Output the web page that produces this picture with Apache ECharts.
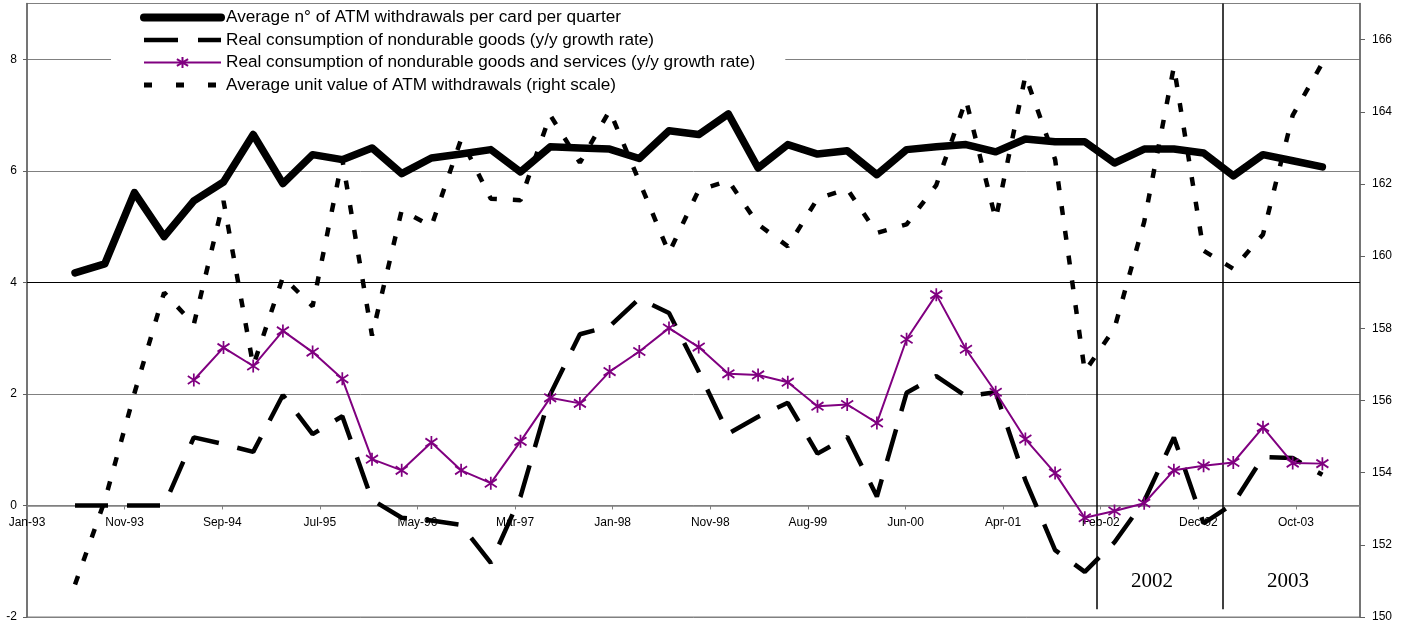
<!DOCTYPE html>
<html>
<head>
<meta charset="utf-8">
<script src="https://cdn.jsdelivr.net/npm/echarts@6/dist/echarts.min.js"></script>
<style>html,body{margin:0;padding:0;background:#fff}#chart{width:1409px;height:625px}</style>
</head>
<body>
<div id="chart"></div>
<script>
// ---- data ----
const quarters = ['1993Q2','1993Q3','1993Q4','1994Q1','1994Q2','1994Q3','1994Q4','1995Q1','1995Q2','1995Q3','1995Q4',
  '1996Q1','1996Q2','1996Q3','1996Q4','1997Q1','1997Q2','1997Q3','1997Q4','1998Q1','1998Q2','1998Q3','1998Q4',
  '1999Q1','1999Q2','1999Q3','1999Q4','2000Q1','2000Q2','2000Q3','2000Q4','2001Q1','2001Q2','2001Q3','2001Q4',
  '2002Q1','2002Q2','2002Q3','2002Q4','2003Q1','2003Q2','2003Q3','2003Q4'];
const atmWithdrawals = [4.17,4.33,5.61,4.82,5.46,5.80,6.65,5.77,6.29,6.20,6.41,5.95,6.23,6.30,6.38,5.98,6.43,6.41,6.39,6.22,
  6.72,6.65,7.02,6.05,6.47,6.30,6.36,5.93,6.38,6.43,6.47,6.34,6.57,6.52,6.52,6.14,6.39,6.39,6.32,5.91,6.29,6.18,6.07];
const nondurableGoods = [0,0,0,0,1.22,1.10,0.96,1.98,1.28,1.60,0.10,-0.22,-0.27,-0.35,-1.03,0.16,1.99,3.07,3.21,3.71,
  3.45,2.40,1.29,1.59,1.84,0.93,1.23,0.16,2.02,2.32,1.96,2.03,0.45,-0.80,-1.19,-0.66,0.08,1.22,-0.32,0.03,0.87,0.85,0.55];
const goodsServices = [null,null,null,null,2.25,2.83,2.50,3.13,2.75,2.27,0.83,0.63,1.13,0.63,0.40,1.15,1.93,1.83,2.40,2.76,
  3.18,2.84,2.36,2.34,2.21,1.78,1.81,1.48,2.98,3.78,2.80,2.03,1.19,0.58,-0.22,-0.10,0.04,0.63,0.71,0.77,1.40,0.76,0.75];
const unitValue = [150.90,153.22,156.20,158.99,158.11,161.53,156.96,159.42,158.61,162.68,157.80,161.27,160.83,163.24,161.59,
  161.55,163.91,162.59,164.03,162.07,160.09,161.83,162.09,160.88,160.27,161.59,161.86,160.64,160.88,161.97,164.33,161.02,
  165.00,162.68,156.80,158.00,160.95,165.25,160.15,159.65,160.60,163.90,165.35];
const xTickLabels = ['Jan-93','Nov-93','Sep-94','Jul-95','May-96','Mar-97','Jan-98','Nov-98','Aug-99','Jun-00','Apr-01','Feb-02','Dec-02','Oct-03'];
const leftTicks = {min:-2, max:9, step:2};
const rightTicks = {min:150, max:167, step:2};
const yearLabels = [{name:'2002', x:113.64}, {name:'2003', x:127.37}];
const yearDividers = [108.05, 120.8];
const seriesNames = [
  'Average n° of ATM withdrawals per card per quarter',
  'Real consumption of nondurable goods (y/y growth rate)',
  'Real consumption of nondurable goods and services (y/y growth rate)',
  'Average unit value of ATM withdrawals (right scale)'
];

// ---- axis helpers (x in months since Jan-93) ----
const X_MAX = 134.65;
const TICK_STEP = 9.86;
function qx(q){ const y = +q.slice(0,4), n = +q.slice(5); return (y-1993)*12 + (n-1)*3 + 1.85; }
function pairs(arr){ return quarters.map((q,i)=>[qx(q), arr[i]]); }

const W = 1409, H = 625;
const GRID = {left:27, right:49, top:3.5, bottom:8};
const plotH = H - GRID.top - GRID.bottom;
const zeroOffset = -plotH * (0 - leftTicks.min) / (leftTicks.max - leftTicks.min);

const FONT = 'Liberation Sans, Arial, sans-serif';
const PURPLE = '#800080';
const STAR = 'path://M0,-1L0,1M-0.87,-0.62L0.87,0.62M-0.87,0.62L0.87,-0.62';
const NO_SYM = {opacity:0, borderWidth:0};

const chart = echarts.init(document.getElementById('chart'), null, {renderer:'canvas', width:W, height:H});
chart.setOption({
  animation:false,
  backgroundColor:'#fff',
  textStyle:{fontFamily:FONT},
  grid:{left:GRID.left, right:GRID.right, top:GRID.top, bottom:GRID.bottom, outerBoundsMode:'none', containLabel:false,
    show:true, borderColor:'#808080', borderWidth:1.2},
  legend:{
    orient:'vertical', left:111, top:4, padding:[5,30,5,29],
    itemWidth:77, itemHeight:14, itemGap:5.5, backgroundColor:'#fff',
    textStyle:{fontFamily:FONT, fontSize:17.2, color:'#000'},
    data:[
      {name:seriesNames[0], lineStyle:{width:8, cap:'round'}, itemStyle:NO_SYM},
      {name:seriesNames[1], lineStyle:{width:4.5, type:[34,20]}, itemStyle:NO_SYM},
      {name:seriesNames[2], lineStyle:{width:2}, itemStyle:{borderWidth:2}},
      {name:seriesNames[3], lineStyle:{width:5, type:[8,24]}, itemStyle:NO_SYM}
    ]
  },
  xAxis:{
    type:'value', min:0, max:X_MAX, interval:TICK_STEP, position:'bottom', offset:zeroOffset,
    axisLine:{show:true, onZero:false, lineStyle:{color:'#808080', width:1.5}},
    axisTick:{show:true, length:4, lineStyle:{color:'#808080'}},
    axisLabel:{fontSize:12, color:'#000', margin:11, fontFamily:FONT, showMaxLabel:false,
      formatter:v=>xTickLabels[Math.round(v/TICK_STEP)] || ''},
    splitLine:{show:false}
  },
  yAxis:[
    {type:'value', position:'left', min:leftTicks.min, max:leftTicks.max, interval:leftTicks.step,
      axisLine:{show:true, onZero:false, lineStyle:{color:'#606060', width:1.5}},
      axisTick:{show:true, length:4, lineStyle:{color:'#606060'}},
      axisLabel:{fontSize:12, color:'#000', margin:10, fontFamily:FONT, showMaxLabel:false},
      splitLine:{show:true, lineStyle:{color:'#808080', width:1}}},
    {type:'value', position:'right', min:rightTicks.min, max:rightTicks.max, interval:rightTicks.step,
      axisLine:{show:true, onZero:false, lineStyle:{color:'#606060', width:1.5}},
      axisTick:{show:true, length:5, lineStyle:{color:'#606060'}},
      axisLabel:{fontSize:12, color:'#000', margin:12, fontFamily:FONT, showMaxLabel:false},
      splitLine:{show:false}}
  ],
  series:[
    {name:seriesNames[0], type:'line', yAxisIndex:0, data:pairs(atmWithdrawals), symbol:'none',
      color:'#000', lineStyle:{color:'#000', width:7.5, cap:'round', join:'round'}, z:3,
      markLine:{silent:true, symbol:'none', animation:false, label:{show:false},
        lineStyle:{color:'#000', width:1.5, type:'solid'},
        data:[
          {yAxis:4, lineStyle:{color:'#000', width:1.2, type:'solid'}},
          ...yearDividers.map(x=>[{coord:[x,-1.86]},{coord:[x,leftTicks.max]}])
        ]},
      markPoint:{silent:true, symbol:'circle', symbolSize:1, itemStyle:{color:'rgba(0,0,0,0)'},
        label:{show:true, position:'inside', formatter:'{b}', fontFamily:'Liberation Serif, Times New Roman, serif', fontSize:21, color:'#000'},
        data:yearLabels.map(d=>({name:d.name, coord:[d.x,-1.37]}))}
    },
    {name:seriesNames[1], type:'line', yAxisIndex:0, data:pairs(nondurableGoods), symbol:'none',
      color:'#000', lineStyle:{color:'#000', width:4.5, type:[33,19]}, z:4},
    {name:seriesNames[2], type:'line', yAxisIndex:0, data:pairs(goodsServices), symbol:STAR, symbolSize:[12,13],
      showAllSymbol:true, color:PURPLE, lineStyle:{color:PURPLE, width:2},
      itemStyle:{color:PURPLE, borderColor:PURPLE, borderWidth:1.8}, z:5},
    {name:seriesNames[3], type:'line', yAxisIndex:1, data:pairs(unitValue), symbol:'none',
      color:'#000', lineStyle:{color:'#000', width:4.5, type:[9,16]}, z:4}
  ]
});
</script>
</body>
</html>
